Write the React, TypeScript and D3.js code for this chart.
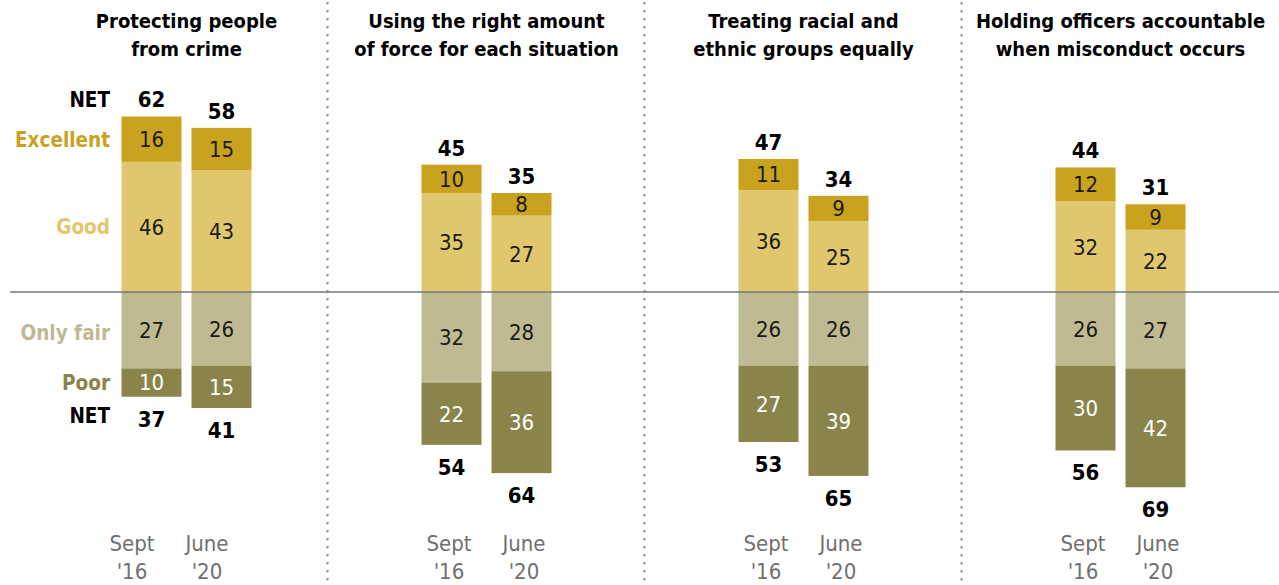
import React from "react";
import * as d3 from "d3";

const categories = [
  ["Protecting people", "from crime"],
  ["Using the right amount", "of force for each situation"],
  ["Treating racial and", "ethnic groups equally"],
  ["Holding officers accountable", "when misconduct occurs"],
];
const periods = ["Sept '16", "June '20"];
const excellent = [[16, 15], [10, 8], [11, 9], [12, 9]];
const good = [[46, 43], [35, 27], [36, 25], [32, 22]];
const onlyFair = [[27, 26], [32, 28], [26, 26], [26, 27]];
const poor = [[10, 15], [22, 36], [27, 39], [30, 42]];
const netPositive = [[62, 58], [45, 35], [47, 34], [44, 31]];
const netNegative = [[37, 41], [54, 64], [53, 65], [56, 69]];

const C_EXC = "#c9a21e";
const C_GOOD = "#e0c76e";
const C_FAIR = "#bfba91";
const C_POOR = "#8a844a";

const FONT = "'DejaVu Sans Condensed', 'Liberation Sans Narrow', 'Roboto', sans-serif";

export default function App() {
  const W = 1279, H = 585;
  const y = d3.scaleLinear().domain([0, 100]).range([292, 9]);
  const panel = d3.scaleBand<number>().domain([0, 1, 2, 3]).range([11, W]).paddingInner(0);
  const sub = d3.scaleBand<number>().domain([0, 1]).range([-65, 65]).paddingInner(1 / 7).paddingOuter(0);
  const mid = (i: number) => (panel(i) as number) + panel.bandwidth() / 2;
  const center = (i: number) => mid(i) + (i === 0 ? 17 : 0);
  const dateX = d3.scalePoint<number>().domain([0, 1]).range([-37.5, 37.5]);

  const marks: JSX.Element[] = [];
  categories.forEach((cat, i) => {
    const cx = center(i);
    periods.forEach((p, j) => {
      const x0 = cx + (sub(j) as number);
      const bw = sub.bandwidth();
      const bx = x0 + bw / 2;
      const e = excellent[i][j], g = good[i][j], f = onlyFair[i][j], pr = poor[i][j];
      const segs = [
        { a: 0, b: g, c: C_GOOD, v: g, tc: "#1a1a1a" },
        { a: g, b: g + e, c: C_EXC, v: e, tc: "#1a1a1a" },
        { a: 0, b: -f, c: C_FAIR, v: f, tc: "#1a1a1a" },
        { a: -f, b: -f - pr, c: C_POOR, v: pr, tc: "#fff" },
      ];
      segs.forEach((s, k) => {
        const top = Math.min(y(s.a), y(s.b));
        const h = Math.abs(y(s.a) - y(s.b));
        marks.push(
          <g key={`s${i}${j}${k}`}>
            <rect x={x0} y={top} width={bw} height={h} fill={s.c} />
            <text x={bx} y={top + h / 2} dy="0.36em" textAnchor="middle" fontSize={22} fill={s.tc} fontFamily={FONT}>
              {s.v}
            </text>
          </g>
        );
      });
      marks.push(
        <text key={`np${i}${j}`} x={bx} y={y(g + e) - 17} dy="0.36em" textAnchor="middle" fontSize={22} fontWeight="bold" fill="#000" fontFamily={FONT}>
          {netPositive[i][j]}
        </text>,
        <text key={`nn${i}${j}`} x={bx} y={y(-f - pr) + 22} dy="0.36em" textAnchor="middle" fontSize={22} fontWeight="bold" fill="#000" fontFamily={FONT}>
          {netNegative[i][j]}
        </text>
      );
      const [m, yr] = p.split(" ");
      const dx = mid(i) + (dateX(j) as number);
      marks.push(
        <text key={`p${i}${j}`} textAnchor="middle" fontSize={22} fill="#6f6f6f" fontFamily={FONT}>
          <tspan x={dx} y={551}>{m}</tspan>
          <tspan x={dx} y={579}>{yr}</tspan>
        </text>
      );
    });
    marks.push(
      <text key={`t${i}`} textAnchor="middle" fontSize={20} fontWeight="bold" fill="#000" fontFamily={FONT}>
        <tspan x={cx} y={28}>{cat[0]}</tspan>
        <tspan x={cx} y={56}>{cat[1]}</tspan>
      </text>
    );
  });

  const s0 = 0;
  const lx = 110;
  const legend = [
    { t: "NET", yy: y(netPositive[0][s0]) - 17, c: "#000" },
    { t: "Excellent", yy: y(good[0][s0] + excellent[0][s0] / 2), c: C_EXC },
    { t: "Good", yy: y(good[0][s0] / 2), c: C_GOOD },
    { t: "Only fair", yy: y(-onlyFair[0][s0] / 2) + 2, c: C_FAIR },
    { t: "Poor", yy: y(-onlyFair[0][s0] - poor[0][s0] / 2), c: C_POOR },
    { t: "NET", yy: y(-onlyFair[0][s0] - poor[0][s0]) + 19, c: "#000" },
  ];

  return (
    <svg width={W} height={H} style={{ display: "block", position: "absolute", left: 0, top: 0 }}>
      <rect width={W} height={H} fill="#fff" />
      {[1, 2, 3].map((i) => (
        <line key={`d${i}`} x1={(panel(i) as number) - 0.5} x2={(panel(i) as number) - 0.5} y1={2} y2={H} stroke="#8c8c8c" strokeWidth={2} strokeDasharray="2.5,5.5" />
      ))}
      {marks}
      <line x1={10} x2={W} y1={y(0)} y2={y(0)} stroke="#777" strokeWidth={1.5} />
      {legend.map((l, k) => (
        <text key={`l${k}`} x={lx} y={l.yy} dy="0.36em" textAnchor="end" fontSize={20.5} fontWeight="bold" fill={l.c} fontFamily={FONT}>
          {l.t}
        </text>
      ))}
    </svg>
  );
}
